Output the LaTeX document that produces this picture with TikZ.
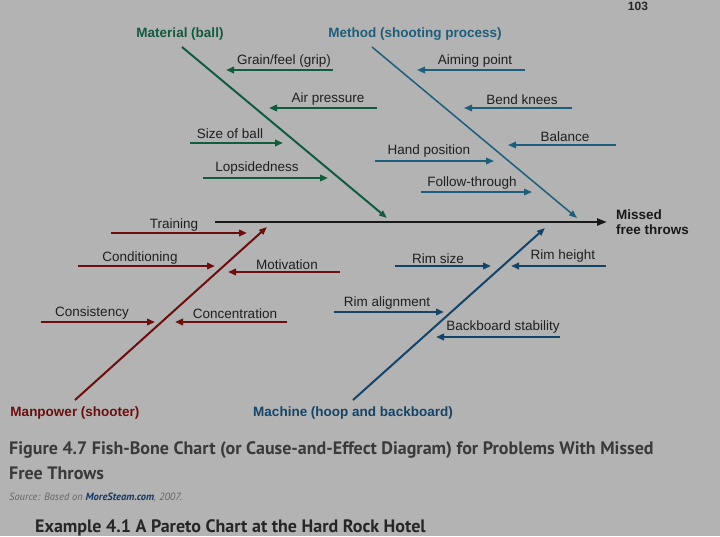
\documentclass[tikz,border=0pt]{standalone}
\usepackage{fontspec}
\setmainfont{Liberation Sans}
\newfontfamily\capfont{PT Sans}
\usepackage{xcolor}
\usetikzlibrary{arrows.meta}

\definecolor{pagegray}{RGB}{179,179,179}
\definecolor{matgreen}{RGB}{18,92,62}
\definecolor{methteal}{RGB}{28,94,124}
\definecolor{manred}{RGB}{108,14,14}
\definecolor{machnavy}{RGB}{20,68,104}
\definecolor{captext}{RGB}{58,58,58}
\definecolor{srcblue}{RGB}{20,55,100}

\begin{document}
\begin{tikzpicture}[x=1pt, y=-1pt,
    every node/.style={inner sep=0pt},
    cause/.style={font=\fontsize{13.5}{15}\selectfont, text=black!88, yshift=-1.5pt},
    group/.style={font=\fontsize{13.5}{15}\selectfont\bfseries, yshift=-1.5pt},
    bone/.style={line width=2pt, -{Triangle[length=8pt, width=6pt]}},
    twig/.style={line width=2.2pt, -{Triangle[length=8pt, width=6.5pt]}},
    spine/.style={line width=2.4pt, -{Triangle[length=10pt, width=7pt]}}
]

% page background
\fill[pagegray] (0,0) rectangle (720,536);
\clip (0,0) rectangle (720,536);

% page number
\node[font=\fontsize{12}{14}\selectfont\bfseries, text=black!85, anchor=base] (pageno) at (638,10) {103};

% spine and effect
\coordinate (spine-s) at (215,222);
\coordinate (spine-e) at (607,222);
\draw[spine, black!90] (spine-s) -- (spine-e);
\node[group, yshift=1pt, anchor=west, align=left, text=black!90] (effect) at (616,222) {Missed\\free throws};

% Material (ball)
\node[group, text=matgreen] (matl) at (180,33) {Material (ball)};
\coordinate (matl-s) at (182,47);
\coordinate (matl-e) at (387,218);
\draw[bone, matgreen] (matl-s) -- (matl-e);

\coordinate (grain-s) at (333,70);  \coordinate (grain-e) at (226,70);
\coordinate (air-s) at (377,108);   \coordinate (air-e) at (269,108);
\coordinate (size-s) at (190,143);  \coordinate (size-e) at (283,143);
\coordinate (lop-s) at (203,178);   \coordinate (lop-e) at (328,178);
\draw[twig, matgreen] (grain-s) -- (grain-e);
\draw[twig, matgreen] (air-s) -- (air-e);
\draw[twig, matgreen] (size-s) -- (size-e);
\draw[twig, matgreen] (lop-s) -- (lop-e);
\node[cause] (grain) at (284,60) {Grain/feel (grip)};
\node[cause] (air) at (328,98) {Air pressure};
\node[cause] (size) at (230,132) {Size of ball};
\node[cause] (lop) at (257,167) {Lopsidedness};

% Method (shooting process)
\node[group, text=methteal] (meth) at (415,33) {Method (shooting process)};
\coordinate (meth-s) at (372,47);
\coordinate (meth-e) at (577,218);
\draw[bone, line width=1.5pt, methteal] (meth-s) -- (meth-e);

\coordinate (aim-s) at (525,70);    \coordinate (aim-e) at (417,70);
\coordinate (knee-s) at (572,108);  \coordinate (knee-e) at (464,108);
\coordinate (bal-s) at (616,145);   \coordinate (bal-e) at (508,145);
\coordinate (hand-s) at (375,161);  \coordinate (hand-e) at (494,161);
\coordinate (follow-s) at (421,192);\coordinate (follow-e) at (532,192);
\draw[twig, line width=1.6pt, methteal] (aim-s) -- (aim-e);
\draw[twig, line width=1.6pt, methteal] (knee-s) -- (knee-e);
\draw[twig, line width=1.6pt, methteal] (bal-s) -- (bal-e);
\draw[twig, line width=1.6pt, methteal] (hand-s) -- (hand-e);
\draw[twig, line width=1.6pt, methteal] (follow-s) -- (follow-e);
\node[cause] (aim) at (475,60) {Aiming point};
\node[cause] (knee) at (522,98) {Bend knees};
\node[cause] (bal) at (565,135) {Balance};
\node[cause] (hand) at (429,150) {Hand position};
\node[cause] (follow) at (472,182) {Follow-through};

% Manpower (shooter)
\node[group, text=manred] (manp) at (75,412) {Manpower (shooter)};
\coordinate (manp-s) at (75,400);
\coordinate (manp-e) at (267,227);
\draw[bone, manred] (manp-s) -- (manp-e);

\coordinate (train-s) at (111,233); \coordinate (train-e) at (247,233);
\coordinate (cond-s) at (78,266);   \coordinate (cond-e) at (215,266);
\coordinate (motiv-s) at (340,272); \coordinate (motiv-e) at (228,272);
\coordinate (consis-s) at (41,322); \coordinate (consis-e) at (155,322);
\coordinate (conc-s) at (287,322);  \coordinate (conc-e) at (175,322);
\draw[twig, manred] (train-s) -- (train-e);
\draw[twig, manred] (cond-s) -- (cond-e);
\draw[twig, manred] (motiv-s) -- (motiv-e);
\draw[twig, manred] (consis-s) -- (consis-e);
\draw[twig, manred] (conc-s) -- (conc-e);
\node[cause] (train) at (174,224) {Training};
\node[cause] (cond) at (140,257) {Conditioning};
\node[cause] (motiv) at (287,263) {Motivation};
\node[cause] (consis) at (92,312) {Consistency};
\node[cause] (conc) at (235,312) {Concentration};

% Machine (hoop and backboard)
\node[group, text=machnavy] (mach) at (353,412) {Machine (hoop and backboard)};
\coordinate (mach-s) at (353,400);
\coordinate (mach-e) at (545,228);
\draw[bone, machnavy] (mach-s) -- (mach-e);

\coordinate (rsize-s) at (395,266);   \coordinate (rsize-e) at (491,266);
\coordinate (rheight-s) at (606,266); \coordinate (rheight-e) at (511,266);
\coordinate (ralign-s) at (334,312);  \coordinate (ralign-e) at (444,312);
\coordinate (board-s) at (560,337);   \coordinate (board-e) at (436,337);
\draw[twig, machnavy] (rsize-s) -- (rsize-e);
\draw[twig, machnavy] (rheight-s) -- (rheight-e);
\draw[twig, machnavy] (ralign-s) -- (ralign-e);
\draw[twig, machnavy] (board-s) -- (board-e);
\node[cause] (rsize) at (438,257) {Rim size};
\node[cause] (rheight) at (563,255) {Rim height};
\node[cause] (ralign) at (387,302) {Rim alignment};
\node[cause] (board) at (503,326) {Backboard stability};

% caption below the chart
\node[anchor=base west, font=\capfont\fontsize{18}{21}\selectfont\bfseries, text=captext] (cap1) at (9,454) {Figure 4.7 Fish-Bone Chart (or Cause-and-Effect Diagram) for Problems With Missed};
\node[anchor=base west, font=\capfont\fontsize{18}{21}\selectfont\bfseries, text=captext] (cap2) at (9,479) {Free Throws};
\node[anchor=base west, font=\capfont\fontsize{10.5}{12}\selectfont\itshape, text=black!60] (src) at (9,500) {Source: Based on \textbf{\color{srcblue}MoreSteam.com}, 2007.};
\node[anchor=base west, font=\capfont\fontsize{18}{21}\selectfont\bfseries, text=black!85] (nextex) at (35,532) {Example 4.1 A Pareto Chart at the Hard Rock Hotel};

\end{tikzpicture}
\end{document}
